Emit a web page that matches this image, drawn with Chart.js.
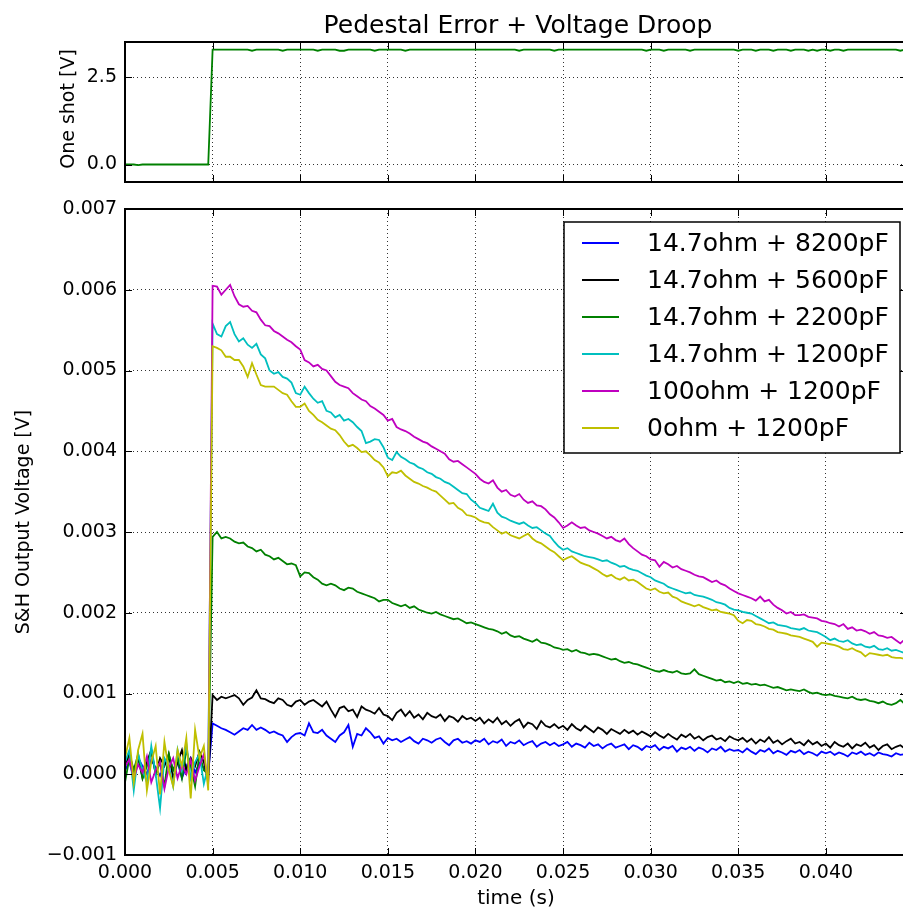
<!DOCTYPE html>
<html>
<head>
<meta charset="utf-8">
<title>Pedestal Error + Voltage Droop</title>
<script src="https://cdn.jsdelivr.net/npm/chart.js@4.4.0/dist/chart.umd.min.js"></script>
<style>
  html, body { margin: 0; padding: 0; background: #fff; overflow: hidden; }
  #page { position: relative; width: 903px; height: 909px; overflow: hidden; }
  canvas { position: absolute; left: 0; }
  #oneShot { top: 0; }
  #droop { top: 189px; }
</style>
</head>
<body>
<div id="page">
  <canvas id="oneShot" width="908" height="202"></canvas>
  <canvas id="droop" width="908" height="720"></canvas>
</div>
<script>
// Scope capture: S&H output after the one-shot fires at t = 5 ms
const SAMPLE_STEP = 0.00025; // seconds between plotted samples
const X_MAX = 0.04463;       // right edge of the (cropped) axes

const seriesLabels = [
    '14.7ohm + 8200pF',
    '14.7ohm + 5600pF',
    '14.7ohm + 2200pF',
    '14.7ohm + 1200pF',
    '100ohm + 1200pF',
    '0ohm + 1200pF'
];
const seriesColors = ['#0000ff', '#000000', '#008000', '#00bfbf', '#bf00bf', '#bfbf00'];

// One-shot trigger output [V]
const oneShotV = [
    0, 0, 0, -0.02, 0, 0, 0, 0, 0, 0, 0, 0, 0, 0, 0, 0, 0, 0, 0, 0,
    3.28, 3.28, 3.28, 3.28, 3.28, 3.28, 3.28, 3.28, 3.28, 3.25, 3.28, 3.28, 3.28, 3.28, 3.28, 3.28, 3.25, 3.28, 3.28, 3.28,
    3.28, 3.28, 3.28, 3.28, 3.25, 3.28, 3.28, 3.28, 3.28, 3.25, 3.25, 3.28, 3.28, 3.28, 3.28, 3.28, 3.28, 3.25, 3.28, 3.28,
    3.28, 3.28, 3.28, 3.28, 3.25, 3.28, 3.28, 3.28, 3.28, 3.28, 3.28, 3.28, 3.28, 3.28, 3.28, 3.28, 3.28, 3.28, 3.28, 3.28,
    3.28, 3.28, 3.28, 3.28, 3.28, 3.28, 3.28, 3.28, 3.28, 3.28, 3.25, 3.28, 3.28, 3.28, 3.28, 3.28, 3.28, 3.28, 3.25, 3.28,
    3.28, 3.28, 3.28, 3.28, 3.28, 3.28, 3.28, 3.28, 3.28, 3.28, 3.28, 3.28, 3.28, 3.28, 3.28, 3.28, 3.28, 3.28, 3.28, 3.25,
    3.28, 3.28, 3.28, 3.25, 3.28, 3.28, 3.28, 3.28, 3.28, 3.25, 3.28, 3.28, 3.28, 3.28, 3.28, 3.28, 3.28, 3.28, 3.28, 3.28,
    3.25, 3.28, 3.28, 3.28, 3.25, 3.28, 3.28, 3.28, 3.25, 3.28, 3.28, 3.28, 3.25, 3.28, 3.28, 3.28, 3.25, 3.28, 3.25, 3.28,
    3.28, 3.25, 3.28, 3.28, 3.25, 3.28, 3.28, 3.28, 3.28, 3.28, 3.28, 3.28, 3.28, 3.28, 3.28, 3.28, 3.28, 3.25, 3.28
];

// S&H output in mV
const sh8200pF = [
    0.05, 0.15, -0.05, 0.20, 0.10, 0.00, 0.18, 0.08, -0.02, 0.12, 0.22, 0.05, 0.15, -0.05, 0.10, 0.20, 0.02, 0.14, 0.08, 0.00,
    0.63, 0.60, 0.57, 0.55, 0.52, 0.49, 0.53, 0.57, 0.55, 0.61, 0.55, 0.58, 0.55, 0.51, 0.53, 0.50, 0.48, 0.40, 0.46, 0.50,
    0.51, 0.48, 0.63, 0.52, 0.51, 0.55, 0.48, 0.44, 0.40, 0.48, 0.52, 0.61, 0.34, 0.50, 0.48, 0.57, 0.52, 0.45, 0.47, 0.38,
    0.45, 0.42, 0.44, 0.40, 0.43, 0.46, 0.41, 0.38, 0.44, 0.42, 0.39, 0.43, 0.45, 0.40, 0.36, 0.42, 0.44, 0.39, 0.41, 0.38,
    0.42, 0.40, 0.44, 0.37, 0.41, 0.39, 0.43, 0.35, 0.40, 0.38, 0.42, 0.36, 0.39, 0.41, 0.34, 0.38, 0.40, 0.36, 0.39, 0.35,
    0.37, 0.40, 0.34, 0.38, 0.36, 0.33, 0.39, 0.35, 0.37, 0.32, 0.36, 0.38, 0.33, 0.35, 0.37, 0.31, 0.36, 0.34, 0.30, 0.35,
    0.33, 0.36, 0.30, 0.34, 0.32, 0.35, 0.28, 0.33, 0.31, 0.34, 0.29, 0.33, 0.31, 0.27, 0.32, 0.30, 0.34, 0.28, 0.31, 0.29,
    0.30, 0.27, 0.32, 0.28, 0.25, 0.30, 0.28, 0.32, 0.26, 0.29, 0.27, 0.24, 0.29, 0.27, 0.30, 0.25, 0.28, 0.26, 0.23, 0.28,
    0.26, 0.28, 0.24, 0.27, 0.25, 0.22, 0.27, 0.25, 0.28, 0.24, 0.26, 0.23, 0.27, 0.25, 0.24, 0.22, 0.26, 0.24, 0.25
];
const sh5600pF = [
    0.10, 0.25, 0.05, 0.20, -0.05, 0.15, 0.30, 0.00, 0.20, 0.10, 0.25, -0.05, 0.15, 0.30, 0.05, 0.20, 0.10, 0.28, 0.15, -0.08,
    0.98, 0.92, 0.96, 0.94, 0.96, 0.98, 0.94, 0.86, 0.92, 0.95, 1.04, 0.94, 0.93, 0.90, 0.88, 0.94, 0.92, 0.86, 0.84, 0.90,
    0.92, 0.86, 0.90, 0.92, 0.88, 0.84, 0.90, 0.80, 0.71, 0.82, 0.84, 0.78, 0.80, 0.71, 0.84, 0.80, 0.78, 0.75, 0.82, 0.74,
    0.72, 0.67, 0.76, 0.80, 0.72, 0.78, 0.70, 0.74, 0.68, 0.76, 0.72, 0.70, 0.74, 0.66, 0.72, 0.70, 0.65, 0.72, 0.68, 0.70,
    0.66, 0.70, 0.63, 0.68, 0.64, 0.70, 0.62, 0.66, 0.60, 0.65, 0.68, 0.58, 0.64, 0.62, 0.56, 0.66, 0.60, 0.58, 0.62, 0.57,
    0.60, 0.55, 0.62, 0.57, 0.54, 0.60, 0.56, 0.52, 0.58, 0.55, 0.50, 0.56, 0.53, 0.50, 0.55, 0.51, 0.54, 0.49, 0.53, 0.50,
    0.47, 0.52, 0.48, 0.45, 0.50, 0.46, 0.43, 0.49, 0.46, 0.50, 0.44, 0.47, 0.42, 0.46, 0.48, 0.43, 0.45, 0.41, 0.47, 0.44,
    0.42, 0.45, 0.40, 0.44, 0.38, 0.43, 0.40, 0.46, 0.39, 0.42, 0.37, 0.41, 0.44, 0.38, 0.40, 0.36, 0.42, 0.37, 0.40, 0.35,
    0.38, 0.33, 0.40, 0.36, 0.34, 0.38, 0.32, 0.37, 0.35, 0.39, 0.33, 0.36, 0.30, 0.35, 0.37, 0.31, 0.34, 0.36, 0.32
];
const sh2200pF = [
    -0.10, 0.20, 0.05, 0.25, -0.05, 0.10, 0.30, 0.00, 0.15, -0.15, 0.25, 0.05, 0.20, -0.05, 0.30, 0.10, -0.15, 0.25, 0.05, 0.00,
    2.94, 3.00, 2.92, 2.94, 2.92, 2.88, 2.86, 2.87, 2.82, 2.80, 2.76, 2.78, 2.72, 2.70, 2.66, 2.68, 2.64, 2.60, 2.61, 2.59,
    2.45, 2.50, 2.49, 2.44, 2.41, 2.36, 2.34, 2.36, 2.34, 2.30, 2.28, 2.31, 2.30, 2.26, 2.24, 2.22, 2.20, 2.18, 2.14, 2.16,
    2.16, 2.12, 2.10, 2.08, 2.10, 2.06, 2.08, 2.04, 2.02, 2.00, 1.99, 2.01, 1.98, 1.96, 1.94, 1.92, 1.93, 1.90, 1.87, 1.88,
    1.86, 1.84, 1.82, 1.80, 1.79, 1.77, 1.74, 1.76, 1.72, 1.70, 1.71, 1.68, 1.66, 1.64, 1.67, 1.63, 1.62, 1.60, 1.57, 1.56,
    1.54, 1.55, 1.52, 1.54, 1.51, 1.50, 1.48, 1.49, 1.48, 1.46, 1.44, 1.42, 1.43, 1.40, 1.38, 1.39, 1.37, 1.36, 1.34, 1.32,
    1.30, 1.28, 1.27, 1.29, 1.27, 1.26, 1.28, 1.25, 1.24, 1.25, 1.30, 1.24, 1.22, 1.20, 1.18, 1.16, 1.17, 1.14, 1.15, 1.13,
    1.15, 1.12, 1.13, 1.11, 1.12, 1.10, 1.11, 1.09, 1.07, 1.08, 1.06, 1.04, 1.05, 1.04, 1.03, 1.05, 1.02, 1.00, 1.01, 0.99,
    0.98, 0.99, 0.97, 0.96, 0.95, 0.94, 0.96, 0.93, 0.92, 0.93, 0.91, 0.90, 0.88, 0.90, 0.87, 0.86, 0.88, 0.92, 0.87
];
const sh1200pF = [
    0.15, 0.30, -0.20, 0.25, 0.05, -0.10, 0.35, 0.00, -0.42, 0.20, 0.10, -0.15, 0.30, 0.05, 0.38, -0.05, 0.15, 0.25, -0.12, 0.10,
    5.58, 5.45, 5.42, 5.55, 5.60, 5.45, 5.36, 5.40, 5.32, 5.28, 5.33, 5.20, 5.15, 5.00, 4.96, 4.98, 4.92, 4.90, 4.85, 4.72,
    4.70, 4.80, 4.72, 4.65, 4.60, 4.62, 4.50, 4.48, 4.42, 4.45, 4.38, 4.40, 4.36, 4.30, 4.25, 4.10, 4.12, 4.15, 4.14, 4.05,
    3.92, 3.89, 3.99, 3.93, 3.90, 3.86, 3.84, 3.80, 3.78, 3.74, 3.72, 3.68, 3.66, 3.62, 3.60, 3.56, 3.52, 3.48, 3.47, 3.40,
    3.36, 3.30, 3.28, 3.26, 3.35, 3.24, 3.19, 3.17, 3.14, 3.12, 3.10, 3.12, 3.08, 3.05, 3.06, 3.02, 2.98, 2.95, 2.88, 2.82,
    2.78, 2.80, 2.76, 2.74, 2.72, 2.70, 2.69, 2.68, 2.66, 2.64, 2.65, 2.62, 2.60, 2.57, 2.58, 2.55, 2.53, 2.52, 2.49, 2.46,
    2.44, 2.40, 2.38, 2.36, 2.32, 2.30, 2.28, 2.26, 2.24, 2.25, 2.22, 2.21, 2.20, 2.18, 2.16, 2.13, 2.12, 2.10, 2.06, 2.04,
    2.03, 2.01, 2.00, 1.99, 1.96, 1.93, 1.90, 1.87, 1.88, 1.85, 1.84, 1.83, 1.81, 1.80, 1.79, 1.81, 1.78, 1.77, 1.76, 1.73,
    1.70, 1.66, 1.68, 1.65, 1.64, 1.66, 1.62, 1.60, 1.61, 1.58, 1.57, 1.59, 1.55, 1.54, 1.56, 1.53, 1.54, 1.52, 1.50
];
const sh100ohm = [
    0.10, 0.18, -0.05, 0.12, 0.02, 0.22, -0.10, 0.05, 0.15, -0.18, 0.08, 0.20, -0.05, 0.12, 0.00, 0.18, -0.08, 0.10, 0.25, -0.12,
    6.05, 6.04, 5.94, 6.00, 6.06, 5.92, 5.82, 5.79, 5.80, 5.74, 5.72, 5.63, 5.56, 5.55, 5.49, 5.46, 5.42, 5.38, 5.35, 5.30,
    5.26, 5.13, 5.10, 5.05, 5.07, 5.02, 5.00, 4.93, 4.86, 4.82, 4.80, 4.78, 4.72, 4.68, 4.64, 4.62, 4.56, 4.53, 4.49, 4.45,
    4.38, 4.40, 4.30, 4.27, 4.25, 4.22, 4.18, 4.15, 4.12, 4.10, 4.06, 4.03, 4.00, 3.97, 3.90, 3.87, 3.88, 3.84, 3.80, 3.76,
    3.72, 3.66, 3.62, 3.60, 3.64, 3.55, 3.50, 3.52, 3.46, 3.44, 3.47, 3.40, 3.36, 3.38, 3.33, 3.32, 3.28, 3.22, 3.18, 3.12,
    3.05, 3.08, 3.12, 3.08, 3.05, 3.06, 3.02, 3.00, 2.98, 2.95, 2.92, 2.94, 2.90, 2.88, 2.92, 2.85, 2.80, 2.76, 2.72, 2.70,
    2.66, 2.65, 2.57, 2.63, 2.60, 2.56, 2.58, 2.54, 2.52, 2.50, 2.47, 2.45, 2.44, 2.41, 2.38, 2.40, 2.36, 2.34, 2.30, 2.27,
    2.24, 2.22, 2.20, 2.18, 2.15, 2.20, 2.14, 2.16, 2.10, 2.06, 2.03, 1.99, 2.01, 1.97, 1.97, 1.98, 1.95, 1.94, 1.93, 1.90,
    1.89, 1.87, 1.86, 1.83, 1.86, 1.80, 1.82, 1.78, 1.79, 1.77, 1.74, 1.76, 1.72, 1.71, 1.69, 1.70, 1.66, 1.62, 1.67
];
const sh0ohm = [
    0.20, 0.45, -0.10, 0.30, 0.50, -0.20, 0.15, 0.35, -0.25, 0.40, 0.05, -0.15, 0.30, 0.10, 0.45, -0.30, 0.55, 0.20, 0.35, -0.20,
    5.30, 5.28, 5.25, 5.17, 5.17, 5.13, 5.13, 5.05, 4.92, 5.09, 4.95, 4.82, 4.80, 4.80, 4.80, 4.76, 4.72, 4.70, 4.62, 4.55,
    4.55, 4.59, 4.50, 4.45, 4.39, 4.36, 4.32, 4.28, 4.26, 4.20, 4.12, 4.06, 4.08, 4.04, 3.99, 4.00, 3.95, 3.89, 3.86, 3.80,
    3.69, 3.74, 3.73, 3.76, 3.70, 3.66, 3.62, 3.60, 3.57, 3.55, 3.52, 3.50, 3.45, 3.40, 3.35, 3.36, 3.30, 3.27, 3.21, 3.20,
    3.18, 3.14, 3.12, 3.11, 3.06, 3.02, 2.98, 3.00, 2.96, 2.94, 2.92, 2.95, 2.98, 2.92, 2.88, 2.86, 2.82, 2.78, 2.75, 2.70,
    2.65, 2.68, 2.70, 2.66, 2.62, 2.60, 2.58, 2.55, 2.52, 2.48, 2.45, 2.47, 2.43, 2.41, 2.44, 2.40, 2.41, 2.38, 2.34, 2.30,
    2.28, 2.30, 2.26, 2.24, 2.25, 2.20, 2.18, 2.14, 2.12, 2.10, 2.08, 2.10, 2.07, 2.05, 2.03, 2.04, 2.01, 2.00, 1.99, 1.97,
    1.90, 1.87, 1.91, 1.90, 1.86, 1.85, 1.83, 1.80, 1.79, 1.76, 1.75, 1.74, 1.72, 1.71, 1.70, 1.68, 1.66, 1.64, 1.58, 1.63,
    1.62, 1.61, 1.60, 1.58, 1.55, 1.54, 1.56, 1.53, 1.51, 1.46, 1.50, 1.49, 1.48, 1.47, 1.48, 1.45, 1.44, 1.44, 1.43
];
const shSeries_mV = [sh8200pF, sh5600pF, sh2200pF, sh1200pF, sh100ohm, sh0ohm];

// sample clock of the capture
const sampleTimes = oneShotV.map((_, i) => +(i * SAMPLE_STEP).toFixed(5));

Chart.defaults.font.family = "'DejaVu Sans', sans-serif";
Chart.defaults.color = '#000';

const GRID_COLOR = 'rgba(0, 0, 0, 0.8)';
const AXIS_LEFT = 125;

function fmt(v, digits) {
    return v.toFixed(digits).replace('-', '\u2212');
}

// matplotlib-style box with inward tick marks
const frame = {
    id: 'frame',
    afterDatasetsDraw(chart) {
        const { ctx, chartArea: a, scales } = chart;
        ctx.save();
        ctx.strokeStyle = '#000';
        ctx.lineWidth = 1;
        ctx.beginPath();
        scales.x.ticks.forEach(t => {
            const px = Math.round(scales.x.getPixelForValue(t.value)) + 0.5;
            ctx.moveTo(px, a.bottom); ctx.lineTo(px, a.bottom - 7);
            ctx.moveTo(px, a.top); ctx.lineTo(px, a.top + 7);
        });
        scales.y.ticks.forEach(t => {
            const py = Math.round(scales.y.getPixelForValue(t.value)) + 0.5;
            ctx.moveTo(a.left, py); ctx.lineTo(a.left + 7, py);
            ctx.moveTo(a.right, py); ctx.lineTo(a.right - 7, py);
        });
        ctx.stroke();
        ctx.lineWidth = 2;
        ctx.strokeRect(a.left, a.top, a.right - a.left, a.bottom - a.top);
        ctx.restore();
    }
};

// rotated y label, placed next to its own tick labels like matplotlib does
function sideLabel(text, x, shift) {
    return {
        id: 'sideLabel',
        afterDraw(chart) {
            const { ctx, chartArea: a } = chart;
            ctx.save();
            ctx.translate(x, (a.top + a.bottom) / 2 + shift);
            ctx.rotate(-Math.PI / 2);
            ctx.font = "19px 'DejaVu Sans'";
            ctx.fillStyle = '#000';
            ctx.textAlign = 'center';
            ctx.textBaseline = 'middle';
            ctx.fillText(text, 0, 0);
            ctx.restore();
        }
    };
}

const figTitle = {
    id: 'figTitle',
    afterDraw(chart) {
        const { ctx, chartArea: a } = chart;
        ctx.save();
        ctx.font = "25px 'DejaVu Sans'";
        ctx.fillStyle = '#000';
        ctx.textAlign = 'center';
        ctx.textBaseline = 'alphabetic';
        ctx.fillText('Pedestal Error + Voltage Droop', 518, 33);
        ctx.restore();
    }
};

const legendBox = {
    id: 'legendBox',
    afterDraw(chart) {
        const { ctx, chartArea: a } = chart;
        const x0 = a.right - 343, y0 = a.top + 13, w = 336, h = 231;
        ctx.save();
        ctx.fillStyle = '#fff';
        ctx.fillRect(x0, y0, w, h);
        ctx.strokeStyle = '#000';
        ctx.lineWidth = 1.5;
        ctx.strokeRect(x0, y0, w, h);
        ctx.font = "25px 'DejaVu Sans'";
        ctx.textBaseline = 'middle';
        ctx.fillStyle = '#000';
        chart.data.datasets.forEach((ds, i) => {
            const y = y0 + 21 + i * 37;
            ctx.strokeStyle = ds.borderColor;
            ctx.lineWidth = 2;
            ctx.beginPath();
            ctx.moveTo(x0 + 18, y);
            ctx.lineTo(x0 + 55, y);
            ctx.stroke();
            ctx.fillText(ds.label, x0 + 83, y + 1);
        });
        ctx.restore();
    }
};

function timeAxis(showLabels, height) {
    return {
        type: 'linear',
        min: 0,
        max: X_MAX,
        grid: { color: GRID_COLOR, lineWidth: 1, drawTicks: false },
        border: { display: false, dash: [1, 3] },
        ticks: {
            display: showLabels,
            stepSize: 0.005,
            includeBounds: false,
            autoSkip: false,
            maxRotation: 0,
            padding: 7,
            font: { size: 19 },
            callback: v => fmt(v, 3)
        },
        title: {
            display: showLabels,
            text: 'time (s)',
            font: { size: 20, lineHeight: 1 },
            padding: { top: 0, bottom: 0 }
        },
        afterFit: s => { s.height = height; }
    };
}

function valueAxis(min, max, step, digits) {
    return {
        min: min,
        max: max,
        grid: { color: GRID_COLOR, lineWidth: 1, drawTicks: false },
        border: { display: false, dash: [1, 3] },
        ticks: {
            stepSize: step,
            includeBounds: false,
            padding: 8,
            font: { size: 19 },
            callback: v => fmt(v, digits)
        },
        afterFit: s => { s.width = AXIS_LEFT; }
    };
}

const baseOptions = {
    responsive: false,
    animation: false,
    devicePixelRatio: 1,
    events: [],
    plugins: { legend: { display: false }, title: { display: false }, tooltip: { enabled: false } },
    elements: { point: { radius: 0 }, line: { tension: 0 } }
};

new Chart(document.getElementById('oneShot'), {
    type: 'line',
    data: {
        datasets: [{
            label: 'One shot',
            data: sampleTimes.map((t, i) => ({ x: t, y: oneShotV[i] })),
            borderColor: '#008000',
            borderWidth: 1.8,
            fill: false
        }]
    },
    options: {
        ...baseOptions,
        layout: { padding: { left: 0, right: 1, top: 42, bottom: 0 } },
        scales: {
            x: timeAxis(false, 20),
            y: valueAxis(-0.5, 3.5, 2.5, 1)
        }
    },
    plugins: [frame, figTitle, sideLabel('One shot [V]', 69, -3)]
});

new Chart(document.getElementById('droop'), {
    type: 'line',
    data: {
        datasets: shSeries_mV.map((mv, k) => ({
            label: seriesLabels[k],
            data: sampleTimes.map((t, i) => ({ x: t, y: mv[i] / 1000 })),
            borderColor: seriesColors[k],
            borderWidth: 1.8,
            fill: false,
            order: shSeries_mV.length - 1 - k
        }))
    },
    options: {
        ...baseOptions,
        layout: { padding: { left: 0, right: 1, top: 20, bottom: 0 } },
        scales: {
            x: timeAxis(true, 54),
            y: valueAxis(-0.001, 0.007, 0.001, 3)
        }
    },
    plugins: [frame, legendBox, sideLabel('S&H Output Voltage [V]', 24, -10)]
});
</script>
</body>
</html>
